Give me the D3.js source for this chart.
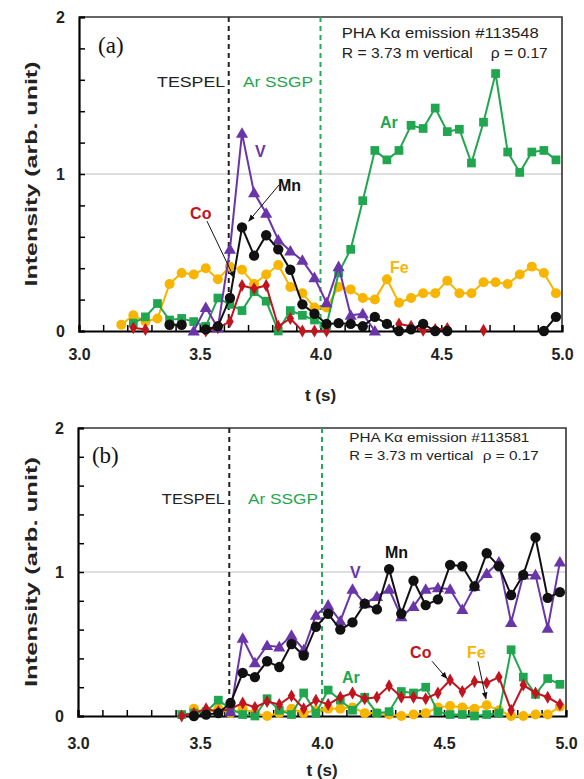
<!DOCTYPE html>
<html><head><meta charset="utf-8">
<script src="https://cdn.jsdelivr.net/npm/d3@7"></script>
<style>body{margin:0;background:#fff}svg{display:block}</style>
</head><body>
<script>
// ---------- data ----------
const timesA=[3.175,3.225,3.275,3.325,3.375,3.425,3.475,3.525,3.575,3.625,3.675,3.725,3.775,3.825,3.875,3.925,3.975,4.025,4.075,4.125,4.175,4.225,4.275,4.325,4.375,4.425,4.475,4.525,4.575,4.625,4.675,4.725,4.775,4.825,4.875,4.925,4.975];
const feA=[0.04,0.10,0.06,0.08,0.30,0.37,0.36,0.40,0.33,0.41,0.39,0.30,0.36,0.42,0.28,0.24,0.15,0.15,0.28,0.265,0.21,0.20,0.33,0.18,0.21,0.24,0.24,0.32,0.24,0.24,0.31,0.31,0.30,0.36,0.41,0.37,0.24];
const arA=[null,0.05,0.09,0.175,0.07,0.08,0.06,0.03,0.21,0.17,0.13,0.25,0.19,0.0,0.13,0.10,0.07,0.035,0.37,0.52,0.83,1.15,1.09,1.15,1.31,1.29,1.42,1.27,1.285,1.07,1.33,1.64,1.14,1.01,1.14,1.15,1.09];
const coA=[null,0.02,0.01,null,null,null,null,0.0,0.02,0.06,0.29,0.27,0.29,0.03,0.08,0.0,0.0,0.0,null,null,null,null,null,0.045,0.03,0.005,0.01,0.017,null,null,0.005,null,null,null,null,null,null];
const vA=[null,null,null,null,null,null,0.0,0.15,0.02,0.52,1.26,0.88,0.75,0.58,0.51,0.45,0.34,0.18,0.41,0.10,0.11,0.0,null,null,null,null,null,null,null,null,null,null,null,null,null,null,null];
const mnA=[null,null,null,null,0.04,0.04,null,0.01,0.03,0.21,0.66,0.48,0.61,0.52,0.39,0.17,0.11,0.045,0.05,0.045,0.03,0.09,0.045,0.0,0.01,0.045,0.0,0.0,null,null,null,null,null,null,null,0.0,0.09];

const timesB=[3.425,3.475,3.525,3.575,3.625,3.675,3.725,3.775,3.825,3.875,3.925,3.975,4.025,4.075,4.125,4.175,4.225,4.275,4.325,4.375,4.425,4.475,4.525,4.575,4.625,4.675,4.725,4.775,4.825,4.875,4.925,4.975];
const feB=[null,0.05,0.02,0.05,0.02,0.05,0.02,0.0,0.02,0.05,0.02,0.04,0.05,0.05,0.06,0.02,0.02,0.01,0.0,0.01,0.02,0.06,0.07,0.06,0.05,0.075,0.04,0.0,0.0,0.01,0.01,0.065];
const arB=[0.01,0.02,0.03,0.11,0.05,0.01,0.0,0.12,0.04,0.01,0.16,0.02,0.18,0.11,0.04,0.13,0.02,0.03,0.17,0.16,0.20,0.03,0.01,0.01,0.0,0.01,0.02,0.46,0.27,0.15,0.26,0.22];
const coB=[0.0,0.02,0.05,0.03,0.05,0.09,0.06,0.10,0.08,0.14,0.05,0.11,0.08,0.13,0.16,0.12,0.13,0.21,0.13,0.13,0.12,0.16,0.25,0.17,0.24,0.23,0.27,0.04,0.215,0.16,0.13,0.08];
const vB=[null,null,null,null,0.03,0.54,0.37,0.49,0.48,0.56,0.46,0.70,0.77,0.66,0.88,0.78,0.83,0.88,0.69,0.76,0.88,0.89,0.88,0.74,0.90,0.99,1.07,0.65,0.98,0.98,0.61,1.07];
const mnB=[null,0.0,0.01,0.02,0.09,0.30,0.27,0.38,0.34,0.50,0.42,0.62,0.71,0.60,0.65,0.78,0.74,1.02,0.71,0.94,0.77,0.81,1.05,1.04,0.90,1.13,1.04,0.84,0.98,1.24,0.82,0.86];

const xMajor=[3.0,3.5,4.0,4.5,5.0];
const xMinor=[3.0,3.1,3.2,3.3,3.4,3.5,3.6,3.7,3.8,3.9,4.0,4.1,4.2,4.3,4.4,4.5,4.6,4.7,4.8,4.9,5.0];
const yMajor=[0,1,2];
const yMinor=[0,0.2,0.4,0.6,0.8,1.0,1.2,1.4,1.6,1.8,2.0];
const tTespel=3.62, tSSGP=4.0;

// ---------- styles ----------
const SANS="'Liberation Sans', Arial, sans-serif";
const SERIF="'Liberation Serif', 'Times New Roman', serif";
const C={Fe:"#f7b500",Ar:"#1fa64f",Co:"#c0141e",V:"#6a35a8",Mn:"#111"};
const SYM={Fe:d3.symbolCircle,Ar:d3.symbolSquare,Co:d3.symbolDiamond,V:d3.symbolTriangle,Mn:d3.symbolCircle};
const SIZE={Fe:78,Ar:76,Co:48,V:64,Mn:84};

const svg=d3.select("body").append("svg").attr("width",584).attr("height",779).style("font-family",SANS);
svg.append("defs").append("marker").attr("id","arr").attr("viewBox","0 0 10 10")
  .attr("refX",9).attr("refY",5).attr("markerWidth",7).attr("markerHeight",7).attr("orient","auto")
  .append("path").attr("d","M0,1 L10,5 L0,9 Z").attr("fill","#111");

function panel(P){
  const x=d3.scaleLinear().domain([3,5]).range([P.x0,P.x1]);
  const y=d3.scaleLinear().domain([0,2]).range([P.y0,P.y1]);
  const g=svg.append("g");
  g.append("line").attr("x1",x(3)).attr("x2",x(5)).attr("y1",y(1)).attr("y2",y(1))
    .attr("stroke","#bdbdbd").attr("stroke-width",1.2);
  g.append("path").attr("d",`M${x(3)},${y(2)}H${x(5)}V${y(0)}`).attr("fill","none").attr("stroke","#333").attr("stroke-width",1.6);
  const ax=g.append("g").attr("transform",`translate(0,${y(0)})`)
    .call(d3.axisBottom(x).tickValues(xMinor).tickSize(-6).tickFormat(""));
  ax.select(".domain").attr("stroke","#000").attr("stroke-width",2.2);
  ax.selectAll(".tick line").attr("stroke","#000").attr("stroke-width",1.5);
  const axl=g.append("g").attr("transform",`translate(0,${y(0)})`)
    .call(d3.axisBottom(x).tickValues(xMajor).tickSize(0).tickPadding(P.xPad).tickFormat(d3.format(".1f")));
  axl.select(".domain").remove();
  axl.selectAll("text").style("font-family",SANS).style("font-size","16px").style("font-weight","bold").attr("fill","#222");
  const ay=g.append("g").attr("transform",`translate(${x(3)},0)`)
    .call(d3.axisLeft(y).tickValues(yMinor).tickSize(-6).tickFormat(""));
  ay.select(".domain").attr("stroke","#000").attr("stroke-width",2.2);
  ay.selectAll(".tick line").attr("stroke","#000").attr("stroke-width",1.5);
  const ayl=g.append("g").attr("transform",`translate(${x(3)},0)`)
    .call(d3.axisLeft(y).tickValues(yMajor).tickSize(0).tickPadding(14).tickFormat(d3.format("d")));
  ayl.select(".domain").remove();
  ayl.selectAll("text").style("font-family",SANS).style("font-size","16px").style("font-weight","bold").attr("fill","#222");
  g.append("text").attr("x",x(4)).attr("y",P.tY).attr("text-anchor","middle")
    .style("font-size","17px").style("font-weight","bold").attr("fill","#222").text("t (s)");
  g.append("text").attr("transform",`translate(37,${(y(0)+y(2))/2}) rotate(-90)`).attr("text-anchor","middle")
    .style("font-size","16px").style("font-weight","bold").attr("fill","#222")
    .attr("textLength",P.ylLen).attr("lengthAdjust","spacingAndGlyphs").text("Intensity (arb. unit)");
  [[tTespel,"#222"],[tSSGP,"#2aa85a"]].forEach(([t,c])=>{
    g.append("line").attr("x1",x(t)).attr("x2",x(t)).attr("y1",y(2)).attr("y2",y(0))
      .attr("stroke",c).attr("stroke-width",2).attr("stroke-dasharray","5,4");
  });
  const line=d3.line().defined(d=>d.v!=null).x(d=>x(d.t)).y(d=>y(d.v));
  P.series.forEach(s=>{
    const pts=P.times.map((t,i)=>({t,v:s.vals[i]}));
    g.append("path").datum(pts).attr("d",line).attr("fill","none").attr("stroke",C[s.k]).attr("stroke-width",2);
    g.selectAll(null).data(pts.filter(d=>d.v!=null)).enter().append("path")
      .attr("transform",d=>`translate(${x(d.t)},${y(d.v)+(s.k==="V"?1:0)})`)
      .attr("d",d3.symbol().type(SYM[s.k]).size(SIZE[s.k])).attr("fill",C[s.k]);
  });
  P.arrows.forEach(a=>{
    g.append("line").attr("x1",x(a[0])).attr("y1",y(a[1])).attr("x2",x(a[2])).attr("y2",y(a[3]))
      .attr("stroke","#111").attr("stroke-width",1).attr("marker-end","url(#arr)");
  });
  P.labels.forEach(l=>{
    g.append("text").attr("x",x(l.t)).attr("y",y(l.v)).style("font-size","16px").style("font-weight","bold")
      .attr("fill",C[l.k]).text(l.k);
  });
  g.append("text").attr("x",x(P.tesp.t)).attr("y",y(P.tesp.v)).attr("text-anchor","end")
    .style("font-size","15px").attr("fill","#222").attr("textLength",P.tesp.w).attr("lengthAdjust","spacingAndGlyphs").text("TESPEL");
  g.append("text").attr("x",x(P.ssgp.t)).attr("y",y(P.ssgp.v))
    .style("font-size","15px").attr("fill","#1fa64f").attr("textLength",P.ssgp.w).attr("lengthAdjust","spacingAndGlyphs").text("Ar SSGP");
  g.append("text").attr("x",x(P.pha.t)).attr("y",y(P.pha.v1)).style("font-size",P.pha.fs+"px").attr("fill","#222")
    .attr("textLength",P.pha.w1).attr("lengthAdjust","spacingAndGlyphs").text("PHA K\u03b1 emission #"+P.shot);
  g.append("text").attr("x",x(P.pha.t)).attr("y",y(P.pha.v2)).style("font-size",P.pha.fs+"px").attr("fill","#222")
    .attr("textLength",P.pha.w2).attr("lengthAdjust","spacingAndGlyphs").text("R = 3.73 m vertical");
  g.append("text").attr("x",x(P.pha.tr)).attr("y",y(P.pha.v2)).style("font-size",P.pha.fs+"px").attr("fill","#222")
    .attr("textLength",P.pha.w3).attr("lengthAdjust","spacingAndGlyphs").text("\u03c1 = 0.17");
  g.append("text").attr("x",x(P.tag.t)).attr("y",y(P.tag.v)).style("font-size","23px")
    .style("font-family",SERIF).attr("fill","#111").text(P.tag.s);
}

panel({x0:79,x1:562,y0:331,y1:17,xPad:18,tY:401,ylLen:225,times:timesA,shot:"113548",
  series:[{k:"Fe",vals:feA},{k:"Ar",vals:arA},{k:"Co",vals:coA},{k:"V",vals:vA},{k:"Mn",vals:mnA}],
  arrows:[[3.828,0.93,3.703,0.70],[3.530,0.70,3.642,0.34]],
  labels:[{k:"V",t:3.729,v:1.108},{k:"Mn",t:3.824,v:0.892},{k:"Co",t:3.460,v:0.713},{k:"Ar",t:4.246,v:1.293},{k:"Fe",t:4.288,v:0.369}],
  tesp:{t:3.605,v:1.554,w:68},ssgp:{t:3.679,v:1.554,w:70},
  pha:{t:4.088,tr:4.705,v1:1.866,v2:1.739,fs:14,w1:197,w2:131,w3:57},
  tag:{t:3.079,v:1.77,s:"(a)"}});

panel({x0:78,x1:566,y0:716,y1:428,xPad:22,tY:776,ylLen:230,times:timesB,shot:"113581",
  series:[{k:"Fe",vals:feB},{k:"Ar",vals:arB},{k:"Co",vals:coB},{k:"V",vals:vB},{k:"Mn",vals:mnB}],
  arrows:[[4.451,0.38,4.512,0.26],[4.639,0.38,4.672,0.12]],
  labels:[{k:"Mn",t:4.258,v:1.097},{k:"V",t:4.115,v:0.958},{k:"Ar",t:4.082,v:0.229},{k:"Co",t:4.361,v:0.403},{k:"Fe",t:4.594,v:0.403}],
  tesp:{t:3.602,v:1.472,w:63},ssgp:{t:3.697,v:1.472,w:70},
  pha:{t:4.112,tr:4.659,v1:1.903,v2:1.778,fs:13,w1:180,w2:124,w3:56},
  tag:{t:3.057,v:1.757,s:"(b)"}});
</script>
</body></html>
